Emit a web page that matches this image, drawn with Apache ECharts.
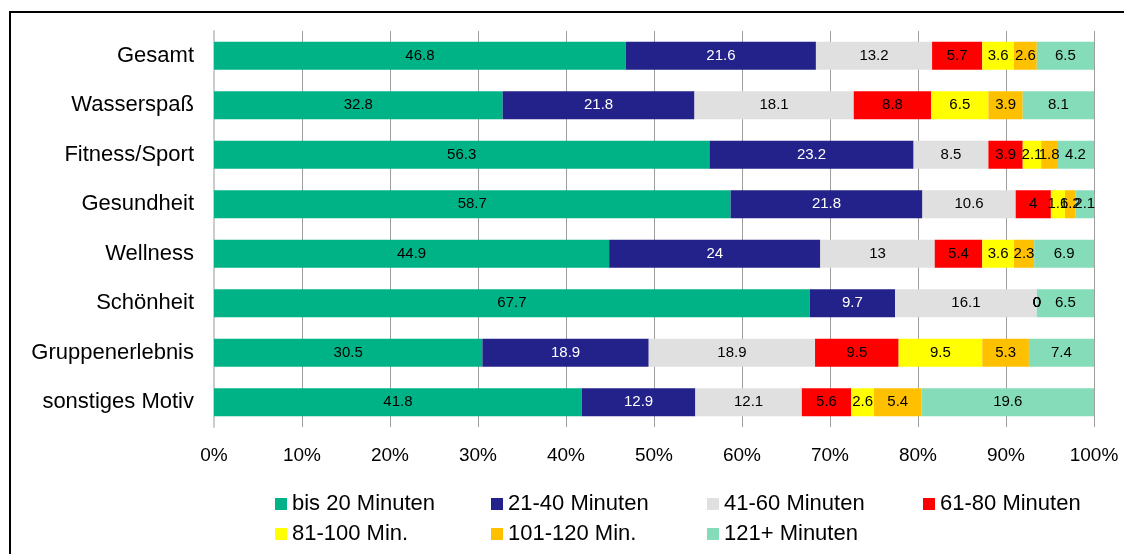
<!DOCTYPE html>
<html>
<head>
<meta charset="utf-8">
<script src="https://cdn.jsdelivr.net/npm/echarts@6/dist/echarts.min.js"></script>
<style>
  html, body { margin: 0; padding: 0; background: #ffffff; }
  #chart { width: 1124px; height: 554px; }
</style>
</head>
<body>
<div id="chart"></div>
<script>
// Motive categories (top to bottom)
const categories = ['Gesamt', 'Wasserspaß', 'Fitness/Sport', 'Gesundheit', 'Wellness', 'Schönheit', 'Gruppenerlebnis', 'sonstiges Motiv'];

// Share of visitors per duration class, in percent
const bis20   = [46.8, 32.8, 56.3, 58.7, 44.9, 67.7, 30.5, 41.8];
const min2140 = [21.6, 21.8, 23.2, 21.8, 24.0,  9.7, 18.9, 12.9];
const min4160 = [13.2, 18.1,  8.5, 10.6, 13.0, 16.1, 18.9, 12.1];
const min6180 = [ 5.7,  8.8,  3.9,  4.0,  5.4,  0,    9.5,  5.6];
const min81100 = [3.6,  6.5,  2.1,  1.6,  3.6,  0,    9.5,  2.6];
const min101120 = [2.6, 3.9,  1.8,  1.2,  2.3,  0,    5.3,  5.4];
const min121   = [6.5,  8.1,  4.2,  2.1,  6.9,  6.5,  7.4, 19.6];

const seriesNames = ['bis 20 Minuten', '21-40 Minuten', '41-60 Minuten', '61-80 Minuten', '81-100 Min.', '101-120 Min.', '121+ Minuten'];
const seriesData = [bis20, min2140, min4160, min6180, min81100, min101120, min121];
const seriesColors = ['#00b386', '#22228a', '#e0e0e0', '#ff0000', '#ffff00', '#ffc000', '#85dcb9'];
const labelColors = ['#000000', '#ffffff', '#000000', '#000000', '#000000', '#000000', '#000000'];

const xTicks = [0, 10, 20, 30, 40, 50, 60, 70, 80, 90, 100];

const FONT = "'Liberation Sans', Arial, sans-serif";

const chart = echarts.init(document.getElementById('chart'), null, { renderer: 'canvas' });

const series = seriesNames.map((name, i) => ({
  name: name,
  type: 'bar',
  stack: 'total',
  barWidth: 28,
  data: seriesData[i],
  itemStyle: { color: seriesColors[i] },
  label: {
    show: true,
    position: 'inside',
    color: labelColors[i],
    fontFamily: FONT,
    fontSize: 15,
    formatter: p => String(p.value)
  },
  emphasis: { disabled: true }
}));

const legendCommon = {
  left: 275,
  orient: 'horizontal',
  icon: 'rect',
  itemWidth: 12,
  itemHeight: 12,
  itemGap: 49,
  padding: 0,
  selectedMode: false,
  textStyle: { fontFamily: FONT, fontSize: 22, color: '#000000', width: 150, lineHeight: 22 }
};

chart.setOption({
  animation: false,
  backgroundColor: '#ffffff',
  grid: { left: 214, right: 30, top: 31, height: 396, containLabel: false },
  xAxis: {
    type: 'value',
    min: xTicks[0],
    max: xTicks[xTicks.length - 1],
    interval: 10,
    axisLine: { show: false },
    axisTick: { show: false },
    splitLine: { show: true, lineStyle: { color: '#9e9e9e', width: 1 } },
    axisLabel: {
      margin: 19,
      fontFamily: FONT,
      fontSize: 19,
      color: '#000000',
      formatter: '{value}%'
    }
  },
  yAxis: {
    type: 'category',
    data: categories,
    inverse: true,
    axisLine: { show: true, lineStyle: { color: '#cccccc', width: 2 } },
    axisTick: { show: false },
    axisLabel: {
      margin: 20,
      fontFamily: FONT,
      fontSize: 22,
      color: '#000000'
    }
  },
  legend: [
    Object.assign({ top: 493, data: seriesNames.slice(0, 4) }, legendCommon),
    Object.assign({ top: 523, data: seriesNames.slice(4) }, legendCommon)
  ],
  graphic: [{
    type: 'rect',
    shape: { x: 10, y: 12, width: 1200, height: 600 },
    style: { fill: 'none', stroke: '#000000', lineWidth: 2 },
    silent: true
  }],
  series: series
});
</script>
</body>
</html>
